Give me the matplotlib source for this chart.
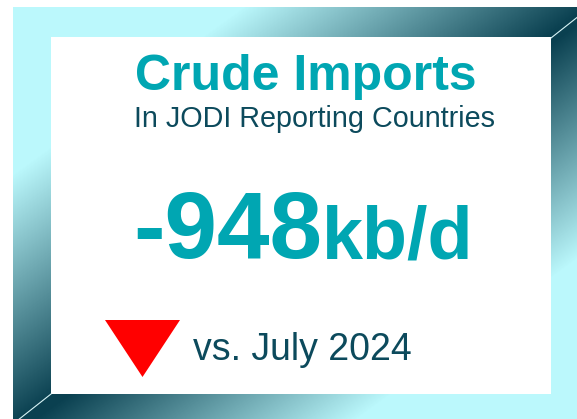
import numpy as np
import matplotlib
matplotlib.use("Agg")
import matplotlib.pyplot as plt
from matplotlib.colors import LinearSegmentedColormap
from matplotlib.path import Path

W, H = 577, 419

# card content
title = "Crude Imports"
subtitle = "In JODI Reporting Countries"
change_value = -948
change_unit = "kb/d"
compare_label = "vs. July 2024"

teal = "#00a6b2"
dark = "#0c4a5c"
light = (187 / 255, 248 / 255, 252 / 255)

plt.rcParams['font.family'] = ['Liberation Sans', 'DejaVu Sans']

fig = plt.figure(figsize=(W / 100, H / 100), dpi=100)
ax = fig.add_axes([0, 0, 1, 1])
ax.set_xlim(0, W)
ax.set_ylim(H, 0)
ax.axis('off')

# bevelled frame, built as one rgba picture
ox0, oy0, ox1, oy1 = 13, 8, 589, 424
ix0, iy0, ix1, iy1 = 51, 38, 551, 394

cmap = LinearSegmentedColormap.from_list(
    "bevel", [light, (10 / 255, 64 / 255, 80 / 255)])

xx, yy = np.meshgrid(np.arange(W) + 0.5, np.arange(H) + 0.5)
pts = np.column_stack([xx.ravel(), yy.ravel()])
pathA = Path([(ox0, oy0), (ox1, oy0), (ix1, iy0), (ix0, iy0), (ix0, iy1), (ox0, oy1)])
pathB = Path([(ox1, oy0), (ox1, oy1), (ox0, oy1), (ix0, iy1), (ix1, iy1), (ix1, iy0)])
inA = pathA.contains_points(pts).reshape(H, W)
inB = pathB.contains_points(pts).reshape(H, W)

# diagonal gradients: top/left strips darken to the far corners,
# right/bottom strips lighten to the lower right
uA = np.clip((xx / W + yy / H - 0.44) / 0.6, 0, 1)
uB = np.clip(((1 - xx / W) + (1 - yy / H) - 0.38) / 0.56, 0, 1)
rgba = np.ones((H, W, 4))
rgba[inA] = cmap(uA[inA])
rgba[inB] = cmap(uB[inB])
ax.imshow(rgba, extent=(0, W, H, 0), interpolation='nearest', zorder=1)

ax.plot([ix1, ox1], [iy0, oy0], color='#d8f4f6', lw=0.8, zorder=3)
ax.plot([ix0, ox0], [iy1, oy1], color='#d8f4f6', lw=0.8, zorder=3)

# texts
ax.text(306, 90, title, color=teal, fontsize=36, fontweight='bold',
        ha='center', va='baseline', zorder=4)
ax.text(314, 127, subtitle, color=dark, fontsize=20.7,
        ha='center', va='baseline', zorder=4)
ax.text(133, 258, f"{change_value}", color=teal, fontsize=68, fontweight='bold',
        ha='left', va='baseline', zorder=4)
ax.text(322, 258, change_unit, color=teal, fontsize=53, fontweight='bold',
        ha='left', va='baseline', zorder=4)

# down marker for a negative change
tri = [(-1, 0.76), (1, 0.76), (0, -0.76), (-1, 0.76)]
ax.scatter([141.5], [347.5], marker=tri, s=54 ** 2, color='#ff0000',
           linewidths=0, zorder=4)
ax.text(193, 360, compare_label, color=dark, fontsize=27,
        ha='left', va='baseline', zorder=4)

fig.savefig("out.png", dpi=100)
